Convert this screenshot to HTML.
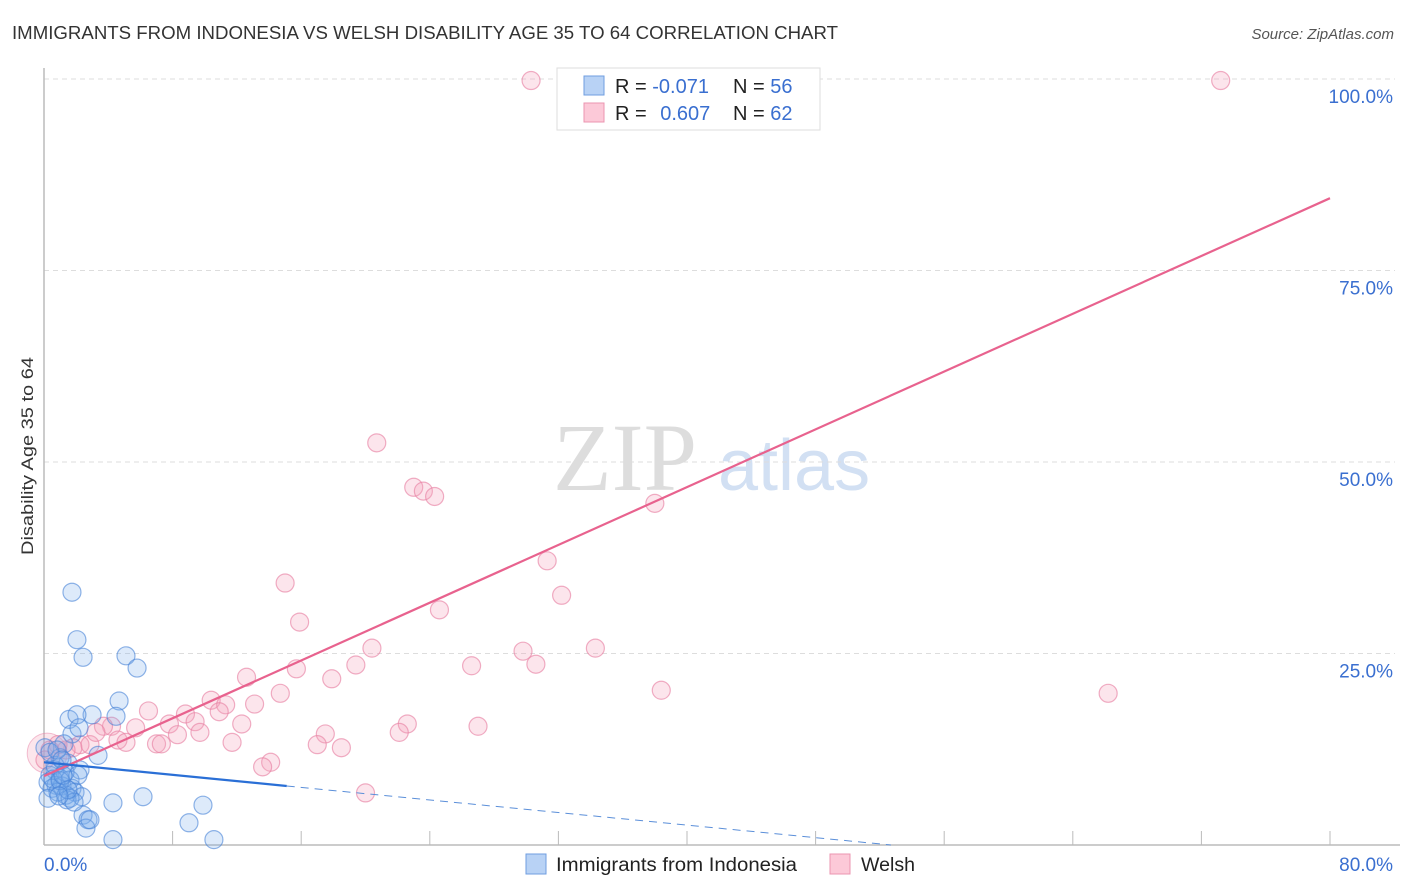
<!DOCTYPE html>
<html><head><meta charset="utf-8"><style>
body{margin:0;background:#fff;font-family:"Liberation Sans",sans-serif}
#wrap{position:relative;width:1406px;height:892px;overflow:hidden}
</style></head><body>
<div id="wrap">
<svg id="chart" width="1406" height="892" xmlns="http://www.w3.org/2000/svg">
<text x="12" y="39" font-size="18" fill="#333" textLength="826" lengthAdjust="spacingAndGlyphs">IMMIGRANTS FROM INDONESIA VS WELSH DISABILITY AGE 35 TO 64 CORRELATION CHART</text>
<text x="1394" y="39" font-size="15" fill="#555" font-style="italic" text-anchor="end">Source: ZipAtlas.com</text>
<text transform="translate(33,456) rotate(-90)" font-size="17" fill="#333" text-anchor="middle" textLength="198" lengthAdjust="spacingAndGlyphs">Disability Age 35 to 64</text>
<g><text x="553" y="490" font-size="96" font-family="Liberation Serif,serif" fill="#ddd">ZIP</text><text x="718" y="490" font-size="72" fill="#d2e0f3">atlas</text></g>
<g id="grid"></g><g id="pts"></g><g id="lines"></g>
<g>
<rect x="557" y="68" width="263" height="62" fill="#fff" stroke="#ddd"/>
<rect x="584" y="76" width="20" height="19" fill="#b8d2f5" stroke="#6f9ee0"/>
<rect x="584" y="103" width="20" height="19" fill="#fcc9d8" stroke="#eb95b0"/>
<text x="615" y="93" font-size="20" fill="#222">R = <tspan fill="#3a6fd0">-0.071</tspan></text>
<text x="733" y="93" font-size="20" fill="#222">N = <tspan fill="#3a6fd0">56</tspan></text>
<text x="615" y="120" font-size="20" fill="#222">R = <tspan fill="#3a6fd0" dx="8">0.607</tspan></text>
<text x="733" y="120" font-size="20" fill="#222">N = <tspan fill="#3a6fd0">62</tspan></text>
</g>
<g>
<rect x="526" y="854" width="20" height="20" fill="#b8d2f5" stroke="#6f9ee0"/>
<text x="556" y="871" font-size="19" fill="#222" textLength="241" lengthAdjust="spacingAndGlyphs">Immigrants from Indonesia</text>
<rect x="830" y="854" width="20" height="20" fill="#fcc9d8" stroke="#eb95b0"/>
<text x="861" y="871" font-size="19" fill="#222" textLength="54" lengthAdjust="spacingAndGlyphs">Welsh</text>
</g>
</svg>
</div>
<script>
const xTicks=[0,8,16,24,32,40,48,56,64,72,80];
const yTicks=[25,50,75,100];
const yTickLabels=["25.0%","50.0%","75.0%","100.0%"];
const xEndLabels=["0.0%","80.0%"];
const blueX=[1.74,2.05,2.43,5.10,5.79,4.67,4.48,2.99,1.56,2.05,1.74,2.18,3.36,1.24,1.00,1.49,2.24,0.68,0.37,1.00,1.62,0.25,0.75,1.12,1.74,0.50,1.93,1.37,2.36,1.43,4.29,6.16,9.89,2.43,2.74,2.61,2.86,9.02,4.29,10.57,0.68,1.31,0.87,2.11,0.06,0.37,0.81,1.12,1.62,1.87,0.25,0.56,1.00,1.18,1.49,0.93];
const blueY=[33.0,26.8,24.5,24.7,23.1,18.8,16.8,17.0,16.4,17.0,14.5,15.3,11.7,13.2,11.4,10.7,9.8,9.8,9.1,8.7,8.5,8.2,7.8,7.7,7.4,7.4,6.9,6.5,6.3,5.9,5.5,6.3,5.2,3.9,3.3,2.2,3.3,2.9,0.7,0.7,10.4,9.5,6.9,9.1,12.7,12.1,12.4,11.1,6.1,5.6,6.1,8.6,8.4,9.1,7.2,6.4];
const pinkX=[30.3,73.2,33.2,36.3,20.7,23.0,23.6,24.3,38.0,31.3,32.2,15.0,24.6,15.9,20.4,34.3,29.8,30.6,26.6,19.4,15.7,12.6,17.9,38.4,66.2,14.7,10.4,11.3,13.1,6.5,8.8,10.9,7.8,9.4,12.3,22.6,27.0,17.5,22.1,4.2,3.7,5.7,9.7,8.3,4.6,5.1,7.0,11.7,17.0,18.5,7.3,14.1,13.6,20.0,2.24,1.80,1.37,0.87,2.86,0.37,3.23,0.06];
const pinkY=[99.8,99.8,99.8,99.8,52.5,46.7,46.2,45.5,44.6,37.1,32.6,34.2,30.7,29.1,25.7,25.7,25.3,23.6,23.4,23.5,23.0,21.9,21.7,20.2,19.8,19.8,18.9,18.3,18.4,17.5,17.1,17.4,15.8,16.1,15.8,15.8,15.5,14.5,14.7,15.5,15.5,15.3,14.7,14.4,13.7,13.4,13.2,13.4,13.1,12.7,13.2,10.8,10.2,6.8,13.1,12.7,12.4,13.1,13.1,12.4,14.7,11.1];
const pinkTrend=[9.0,0.943];
const blueTrend=[10.8,-0.205];
const X0=44,X1=1330,Y0=845,Y100=79;
const sx=v=>X0+(X1-X0)*v/80, sy=v=>Y0-(Y0-Y100)*v/100;
const NS="http://www.w3.org/2000/svg";
function mk(tag,attrs,parent){const e=document.createElementNS(NS,tag);for(const k in attrs)e.setAttribute(k,attrs[k]);parent.appendChild(e);return e;}
const grid=document.getElementById('grid'),pts=document.getElementById('pts'),lines=document.getElementById('lines'),svg=document.getElementById('chart');
yTicks.forEach((t,i)=>{
 const l=mk('line',{x1:X0,x2:1395,y1:sy(t),y2:sy(t),stroke:'#ddd','stroke-dasharray':'5,4'},grid);
 
 
 const tx=mk('text',{x:1393,y:sy(t)+24,'font-size':19,fill:'#3a6fd0','text-anchor':'end'},grid);tx.textContent=yTickLabels[i];
 
 
});
const ya=mk('line',{x1:X0,x2:X0,y1:68,y2:Y0,stroke:'#bbb','stroke-width':1.5},grid);


const xa=mk('line',{x1:X0,x2:1400,y1:Y0,y2:Y0,stroke:'#bbb','stroke-width':1.5},grid);


xTicks.forEach(t=>{
 const l=mk('line',{x1:sx(t),x2:sx(t),y1:Y0-14,y2:Y0,stroke:'#bbb'},grid);
 
 
});
[[0,'start'],[80,'end']].forEach((p,i)=>{
 const tx=mk('text',{x:i?1393:44,y:871,'font-size':19,fill:'#3a6fd0','text-anchor':p[1]},grid);tx.textContent=xEndLabels[i];
 
 
});
const bigP=mk('circle',{cx:sx(0.2),cy:sy(12),r:20,fill:'rgba(240,140,170,0.22)',stroke:'rgba(232,130,165,0.5)'},pts);


pinkX.forEach((x,i)=>{
 const c=mk('circle',{cx:sx(x),cy:sy(pinkY[i]),r:9,fill:'rgba(245,160,185,0.28)',stroke:'rgba(232,130,165,0.65)','stroke-width':1.2},pts);
 
 
});
blueX.forEach((x,i)=>{
 const c=mk('circle',{cx:sx(x),cy:sy(blueY[i]),r:9,fill:'rgba(120,170,235,0.25)',stroke:'rgba(70,130,215,0.6)','stroke-width':1.2},pts);
 
 
});
const pl=mk('line',{x1:sx(0),y1:sy(pinkTrend[0]),x2:sx(80),y2:sy(pinkTrend[0]+pinkTrend[1]*80),stroke:'#e8628e','stroke-width':2.2},lines);


const bEnd=15.1, bZero=-blueTrend[0]/blueTrend[1];
const bl=mk('line',{x1:sx(0),y1:sy(blueTrend[0]),x2:sx(bEnd),y2:sy(blueTrend[0]+blueTrend[1]*bEnd),stroke:'#2a6fd6','stroke-width':2.2},lines);


const bd=mk('line',{x1:sx(bEnd),y1:sy(blueTrend[0]+blueTrend[1]*bEnd),x2:sx(bZero),y2:sy(0),stroke:'#5b8fd9','stroke-width':1,'stroke-dasharray':'8,6'},lines);


</script>
</body></html>
